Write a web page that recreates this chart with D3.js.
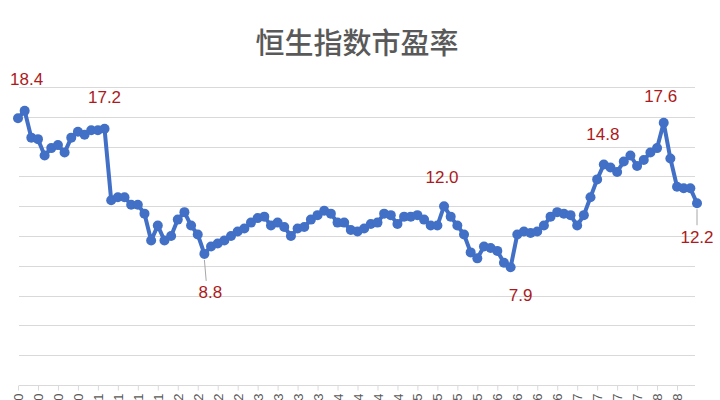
<!DOCTYPE html>
<html>
<head>
<meta charset="utf-8">
<script src="https://cdn.jsdelivr.net/npm/d3@7"></script>
<style>
  html, body { margin: 0; padding: 0; background: #fff; overflow: hidden; }
  svg { display: block; }
</style>
</head>
<body>
<svg id="chart" width="720" height="400"></svg>
<script>
// ---- data ----
const chartTitle = "恒生指数市盈率";

// monthly P/E values, Jan 2010 onward
const peValues = [
  17.9, 18.4, 16.6, 16.5, 15.4, 15.9, 16.1, 15.6, 16.6, 17.0,
  16.8, 17.1, 17.1, 17.2, 12.4, 12.6, 12.6, 12.1, 12.1, 11.5,
  9.7, 10.7, 9.7, 10.0, 11.1, 11.6, 10.7, 10.1, 8.8, 9.3,
  9.5, 9.7, 10.0, 10.3, 10.5, 10.9, 11.2, 11.3, 10.7, 10.9,
  10.6, 10.0, 10.5, 10.6, 11.1, 11.4, 11.7, 11.5, 10.9, 10.9,
  10.4, 10.3, 10.5, 10.8, 10.9, 11.5, 11.4, 10.8, 11.3, 11.3,
  11.4, 11.1, 10.7, 10.7, 12.0, 11.3, 10.7, 10.1, 8.9, 8.5,
  9.3, 9.2, 9.0, 8.2, 7.9, 10.1, 10.3, 10.2, 10.3, 10.7,
  11.3, 11.6, 11.5, 11.4, 10.7, 11.4, 12.6, 13.8, 14.8, 14.6,
  14.3, 15.0, 15.4, 14.7, 15.1, 15.6, 15.9, 17.6, 15.2, 13.3,
  13.2, 13.2, 12.2
];

// quarterly tick labels
const tickLabels = [
  "Jan-10", "Apr-10", "Jul-10", "Oct-10",
  "Jan-11", "Apr-11", "Jul-11", "Oct-11",
  "Jan-12", "Apr-12", "Jul-12", "Oct-12",
  "Jan-13", "Apr-13", "Jul-13", "Oct-13",
  "Jan-14", "Apr-14", "Jul-14", "Oct-14",
  "Jan-15", "Apr-15", "Jul-15", "Oct-15",
  "Jan-16", "Apr-16", "Jul-16", "Oct-16",
  "Jan-17", "Apr-17", "Jul-17", "Oct-17",
  "Jan-18", "Apr-18"
];

// indices of the annotated points
const annotatedIdx = [1, 13, 28, 64, 74, 88, 97, 102];

// gridline values
const gridValues = [2, 4, 6, 8, 10, 12, 14, 16, 18, 20];

// ---- style / placement ----
const labelPlacement = {
  1:   {dx: 2,  dy: -31, leader: false},
  13:  {dx: 0,  dy: -31, leader: false},
  28:  {dx: 6,  dy: 39,  leader: true},
  64:  {dx: -2, dy: -29, leader: false},
  74:  {dx: 10, dy: 28,  leader: false},
  88:  {dx: -1, dy: -30, leader: false},
  97:  {dx: -3, dy: -26, leader: false},
  102: {dx: 0,  dy: 34,  leader: true}
};

const svg = d3.select("#chart");
const lineColor = "#4170C6";
const gridColor = "#d9d9d9";
const labelColor = "#AC1A20";

const x = d3.scaleLinear().domain([0, peValues.length - 1]).range([18, 697]);
const y = d3.scaleLinear().domain([0, 20]).range([385, 87]);

// title
svg.append("text")
  .attr("x", 357).attr("y", 41)
  .attr("text-anchor", "middle")
  .attr("dominant-baseline", "central")
  .attr("font-family", "'Noto Sans CJK SC', sans-serif")
  .attr("font-size", 29)
  .attr("font-weight", 500)
  .attr("fill", "#595959")
  .text(chartTitle);

// gridlines
svg.append("g").selectAll("line")
  .data(gridValues)
  .join("line")
  .attr("x1", 19).attr("x2", 695)
  .attr("y1", d => Math.round(y(d)) + 0.5)
  .attr("y2", d => Math.round(y(d)) + 0.5)
  .attr("stroke", gridColor)
  .attr("stroke-width", 1.2);

// x axis
const tickIdx = tickLabels.map((_, i) => i * 3);
const xAxis = d3.axisBottom(x)
  .tickValues(tickIdx)
  .tickFormat((d, i) => tickLabels[i])
  .tickSizeOuter(0)
  .tickSizeInner(5);

const gx = svg.append("g")
  .attr("transform", `translate(0,${Math.round(y(0)) + 0.5})`)
  .call(xAxis);
gx.select(".domain").attr("stroke", gridColor).attr("stroke-width", 1.2)
  .attr("d", `M19,0H695`);
gx.selectAll(".tick line").attr("stroke", gridColor);
gx.selectAll(".tick text")
  .attr("font-family", "'Liberation Sans', Arial, sans-serif")
  .attr("font-size", 13)
  .attr("fill", "#595959")
  .attr("text-anchor", "end")
  .attr("transform", "rotate(-90)")
  .attr("x", -8)
  .attr("y", 0)
  .attr("dy", "0.35em");

// line
const line = d3.line()
  .x((d, i) => x(i))
  .y(d => y(d));

svg.append("path")
  .datum(peValues)
  .attr("d", line)
  .attr("fill", "none")
  .attr("stroke", lineColor)
  .attr("stroke-width", 4)
  .attr("stroke-linejoin", "round");

// markers
svg.append("g").selectAll("circle")
  .data(peValues)
  .join("circle")
  .attr("cx", (d, i) => x(i))
  .attr("cy", d => y(d))
  .attr("r", 5)
  .attr("fill", lineColor);

// leader lines
svg.append("g").selectAll("line")
  .data(annotatedIdx.filter(i => labelPlacement[i].leader))
  .join("line")
  .attr("x1", i => x(i)).attr("x2", i => x(i) + labelPlacement[i].dx * 0.3)
  .attr("y1", i => y(peValues[i]) + 6)
  .attr("y2", i => y(peValues[i]) + labelPlacement[i].dy - 12)
  .attr("stroke", "#a6a6a6")
  .attr("stroke-width", 1);

// value labels
svg.append("g").selectAll("text")
  .data(annotatedIdx)
  .join("text")
  .attr("x", i => x(i) + labelPlacement[i].dx)
  .attr("y", i => y(peValues[i]) + labelPlacement[i].dy)
  .attr("text-anchor", "middle")
  .attr("dominant-baseline", "central")
  .attr("font-family", "'Liberation Sans', Arial, sans-serif")
  .attr("font-size", 17)
  .attr("fill", labelColor)
  .text(i => peValues[i].toFixed(1));
</script>
</body>
</html>
